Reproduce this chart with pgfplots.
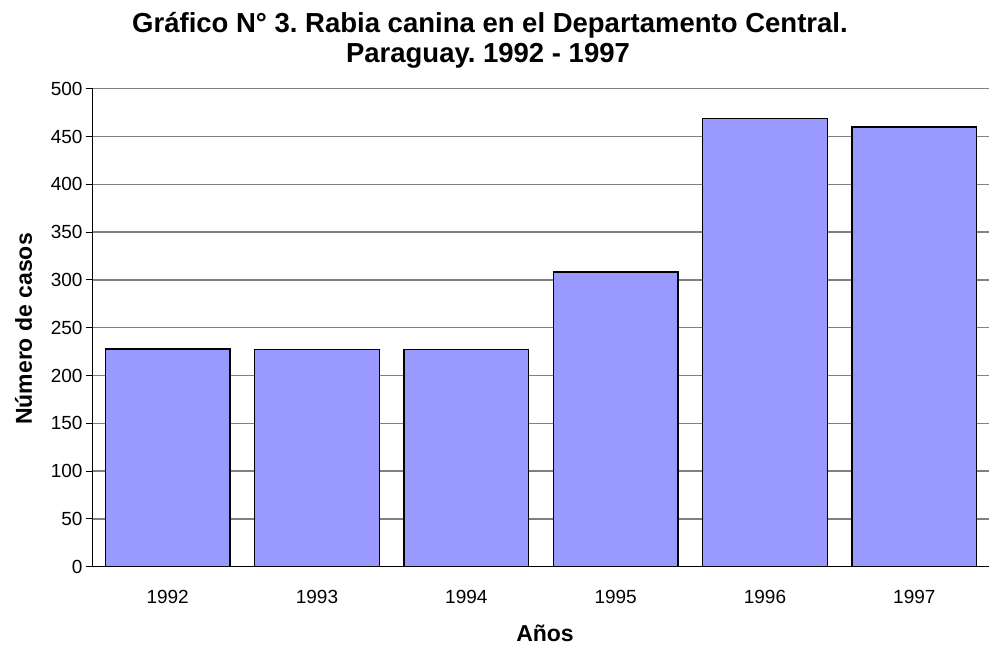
\documentclass[border=0pt]{standalone}
\usepackage{pgfplots}
\pgfplotsset{compat=1.18}
\usepackage{fontspec}
\setmainfont{Liberation Sans}
\frenchspacing
\definecolor{barfill}{HTML}{9999FF}
\definecolor{gridc}{HTML}{808080}
\begin{document}
\begin{tikzpicture}
\path[use as bounding box] (-93pt,-81.3pt) rectangle (896pt,566.7pt);
\begin{axis}[at={(0,0)}, anchor=south west, scale only axis,
  width=896pt, height=478pt,
  xmin=-0.5, xmax=5.5, ymin=0, ymax=500,
  ytick={0,50,...,500},
  xtick={0,...,5}, xticklabels={1992,1993,1994,1995,1996,1997},
  extra x ticks={-0.5,0.5,1.5,2.5,3.5,4.5,5.5},
  extra x tick labels={},
  extra x tick style={major tick length=7pt, tick style={black, line width=1pt}, grid=none},
  x tick style={draw=none},
  y tick style={black, line width=1pt},
  major tick length=7pt,
  tick align=outside,
  xtick pos=bottom, ytick pos=left,
  ymajorgrids, grid style={gridc, line width=1.3pt},
  axis x line*=bottom, axis y line*=left,
  axis line style={black, line width=1pt, -},
  /pgf/number format/assume math mode=true,
  tick label style={font=\fontsize{19}{22}\selectfont},
  xticklabel style={yshift=-13pt},
  clip=false,
]
\addplot[ybar, bar width=0.835, fill=barfill, draw=black, line width=1.6pt] coordinates {
  (0,228) (1,227) (2,227) (3,308) (4,469) (5,460)};
\end{axis}
% title and axis titles
\node[anchor=base, font=\fontsize{27.5}{30}\selectfont\bfseries] at (397pt,533.7pt) {Gráfico N° 3. Rabia canina en el Departamento Central.};
\node[anchor=base, font=\fontsize{27.5}{30}\selectfont\bfseries] at (395pt,503.7pt) {Paraguay. 1992 - 1997};
\node[rotate=90, anchor=base, font=\fontsize{23}{26}\selectfont\bfseries] at (-61pt,237.7pt) {Número de casos};
\node[anchor=base, font=\fontsize{23}{26}\selectfont\bfseries] at (452pt,-75.3pt) {Años};
\end{tikzpicture}
\end{document}
